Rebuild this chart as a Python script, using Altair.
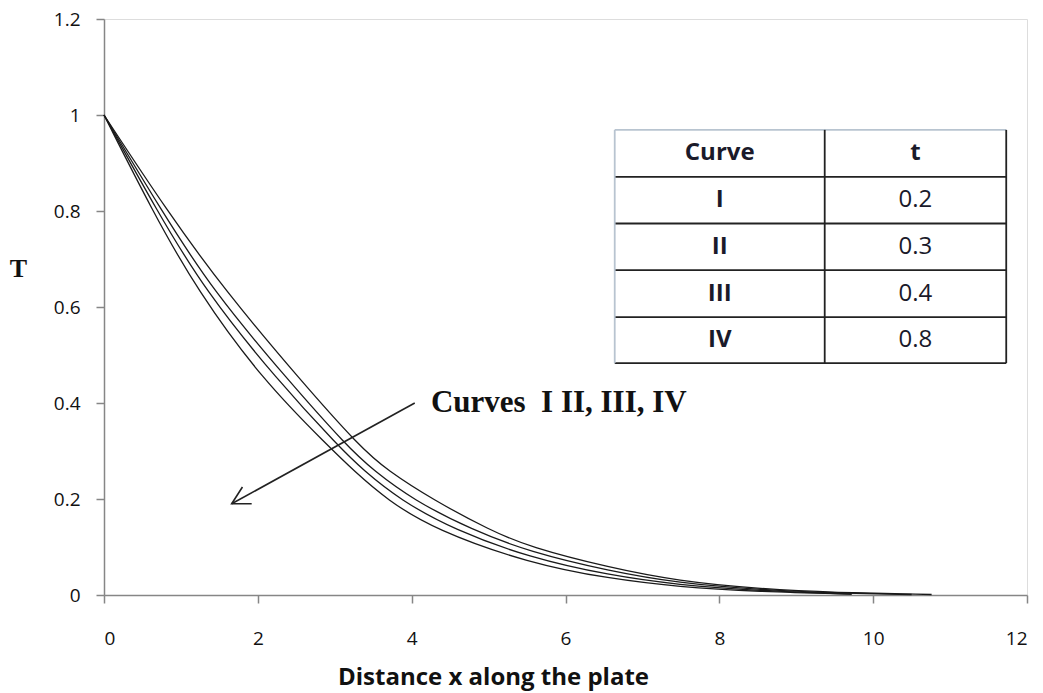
import altair as alt
import pandas as pd

# Curve readings (x, T)
curve_I_x = [0, 0.82, 1.57, 2.55, 3.33, 3.68, 4.28, 5.02, 5.53, 6.57, 7.47, 8.5, 9.5, 10.76]
curve_I_T = [1, 0.80, 0.635, 0.448, 0.308, 0.26, 0.198, 0.135, 0.100, 0.057, 0.029, 0.013, 0.005, 0.001]
curve_II_x = [0, 0.75, 1.41, 2.39, 3.17, 3.5, 4.02, 4.78, 5.53, 6.57, 7.47, 8.5, 9.5, 10.5]
curve_II_T = [1, 0.80, 0.635, 0.448, 0.308, 0.26, 0.198, 0.136, 0.090, 0.050, 0.025, 0.011, 0.004, 0.001]
curve_III_x = [0, 0.69, 1.31, 2.25, 3.06, 3.37, 3.85, 4.55, 5.53, 6.57, 7.47, 8.5, 9.72]
curve_III_T = [1, 0.80, 0.635, 0.448, 0.308, 0.26, 0.198, 0.136, 0.078, 0.041, 0.021, 0.009, 0.002]
curve_IV_x = [0, 0.63, 1.21, 2.06, 2.93, 3.24, 3.68, 4.3, 5.53, 6.57, 7.47, 8.5, 9.72]
curve_IV_T = [1, 0.80, 0.635, 0.448, 0.308, 0.26, 0.198, 0.136, 0.066, 0.034, 0.017, 0.007, 0.002]

curve_names = ["I", "II", "III", "IV"]
t_values = ["0.2", "0.3", "0.4", "0.8"]

# Annotation arrow (data coords)
arrow_x = [4.04, 1.66]
arrow_y = [0.40, 0.190]
head_x = [1.92, 1.66, 1.80]
head_y = [0.190, 0.190, 0.225]
label_text = "Curves\u2002I II, III, IV"
label_pos = [4.25, 0.40]

# Table geometry (data coords)
tab_left, tab_mid, tab_right = 6.64, 9.37, 11.73
tab_rows = [0.969, 0.871, 0.774, 0.677, 0.579, 0.483]

rows = []
for name, xs, ts in [("I", curve_I_x, curve_I_T), ("II", curve_II_x, curve_II_T),
                     ("III", curve_III_x, curve_III_T), ("IV", curve_IV_x, curve_IV_T)]:
    for i, (a, b) in enumerate(zip(xs, ts)):
        rows.append({"curve": name, "x": a, "T": b, "o": i})
df = pd.DataFrame(rows)

xscale = alt.Scale(domain=[0, 12], nice=False, zero=False)
yscale = alt.Scale(domain=[0, 1.2], nice=False, zero=False)
AX = "#868686"

lines = alt.Chart(df).mark_line(color="#1a1a1a", strokeWidth=1.3, interpolate="basis").encode(
    x=alt.X("x:Q", scale=xscale, axis=alt.Axis(
        values=[0, 2, 4, 6, 8, 10, 12], format="~g", grid=False, domainColor=AX, tickColor=AX,
        tickSize=8, labelPadding=26, labelFont="Open Sans", labelFontSize=19, labelColor="#111",
        title="Distance x along the plate", titleFont="Open Sans", titleFontSize=24,
        titleFontWeight="bold", titleColor="#111", titleX=389, titleY=82,
        titleAlign="center", titleBaseline="middle", domainWidth=1.5, tickWidth=1.5)),
    y=alt.Y("T:Q", scale=yscale, axis=alt.Axis(
        values=[0, 0.2, 0.4, 0.6, 0.8, 1, 1.2], format="~g", grid=False, domainColor=AX, tickColor=AX,
        tickSize=8, labelPadding=16, labelFont="Open Sans", labelFontSize=19, labelColor="#111",
        title="T", titleFont="Liberation Serif", titleFontSize=26, titleFontWeight="bold",
        titleAngle=0, titleX=-86, titleY=249, titleAlign="center", titleBaseline="middle",
        titleColor="#111", domainWidth=1.5, tickWidth=1.5)),
    detail="curve:N",
    order="o:Q",
)

arrow_df = pd.DataFrame({"x": arrow_x, "y": arrow_y})
arrow = alt.Chart(arrow_df).mark_line(color="#222", strokeWidth=1.6).encode(
    x=alt.X("x:Q", scale=xscale), y=alt.Y("y:Q", scale=yscale))
head_df = pd.DataFrame({"x": head_x, "y": head_y, "o": [0, 1, 2]})
head = alt.Chart(head_df).mark_line(color="#222", strokeWidth=1.6).encode(
    x=alt.X("x:Q", scale=xscale), y=alt.Y("y:Q", scale=yscale), order="o:Q")

label = alt.Chart(pd.DataFrame({"x": [label_pos[0]], "y": [label_pos[1]], "t": [label_text]})).mark_text(
    font="Liberation Serif", fontSize=31, fontWeight="bold", align="left", baseline="middle",
    color="#111").encode(
    x=alt.X("x:Q", scale=xscale), y=alt.Y("y:Q", scale=yscale), text="t:N")

# Table
hlines = pd.DataFrame({"x": [tab_left] * len(tab_rows), "x2": [tab_right] * len(tab_rows), "y": tab_rows,
                       "c": ["light"] + ["dark"] * (len(tab_rows) - 1)})
vlines = pd.DataFrame({"x": [tab_left, tab_mid, tab_right], "y": [tab_rows[0]] * 3, "y2": [tab_rows[-1]] * 3,
                       "c": ["light", "dark", "dark"]})
cscale = alt.Scale(domain=["light", "dark"], range=["#b8c4d0", "#222"])
hr = alt.Chart(hlines).mark_rule(strokeWidth=1.8).encode(
    x=alt.X("x:Q", scale=xscale), x2="x2:Q", y=alt.Y("y:Q", scale=yscale),
    color=alt.Color("c:N", scale=cscale, legend=None))
vr = alt.Chart(vlines).mark_rule(strokeWidth=1.8).encode(
    x=alt.X("x:Q", scale=xscale), y=alt.Y("y:Q", scale=yscale), y2="y2:Q",
    color=alt.Color("c:N", scale=cscale, legend=None))

centers_y = [(tab_rows[i] + tab_rows[i + 1]) / 2 for i in range(len(tab_rows) - 1)]
c1 = (tab_left + tab_mid) / 2
c2 = (tab_mid + tab_right) / 2
head_txt = pd.DataFrame({"x": [c1, c2], "y": [centers_y[0]] * 2, "t": ["Curve", "t"]})
name_txt = pd.DataFrame({"x": [c1] * 4, "y": centers_y[1:], "t": curve_names})
val_txt = pd.DataFrame({"x": [c2] * 4, "y": centers_y[1:], "t": t_values})

ht = alt.Chart(head_txt).mark_text(font="Open Sans", fontSize=24, fontWeight="bold", color="#1a1a2a",
                                    baseline="middle", align="center").encode(
    x=alt.X("x:Q", scale=xscale), y=alt.Y("y:Q", scale=yscale), text="t:N")
nt = alt.Chart(name_txt).mark_text(font="Open Sans", fontSize=24, fontWeight="bold", color="#1a1a2a",
                                    baseline="middle", align="center").encode(
    x=alt.X("x:Q", scale=xscale), y=alt.Y("y:Q", scale=yscale), text="t:N")
vt = alt.Chart(val_txt).mark_text(font="Open Sans", fontSize=24, color="#1a1a2a",
                                   baseline="middle", align="center").encode(
    x=alt.X("x:Q", scale=xscale), y=alt.Y("y:Q", scale=yscale), text="t:N")

chart = alt.layer(lines, arrow, head, label, hr, vr, ht, nt, vt).properties(
    width=923, height=576,
    autosize=alt.AutoSizeParams(type="none"),
    padding={"left": 104, "top": 19, "right": 16, "bottom": 98},
).configure_view(stroke=None).configure(background="white")

chart.save("out.html", embed_options={"renderer": "svg", "actions": False})
